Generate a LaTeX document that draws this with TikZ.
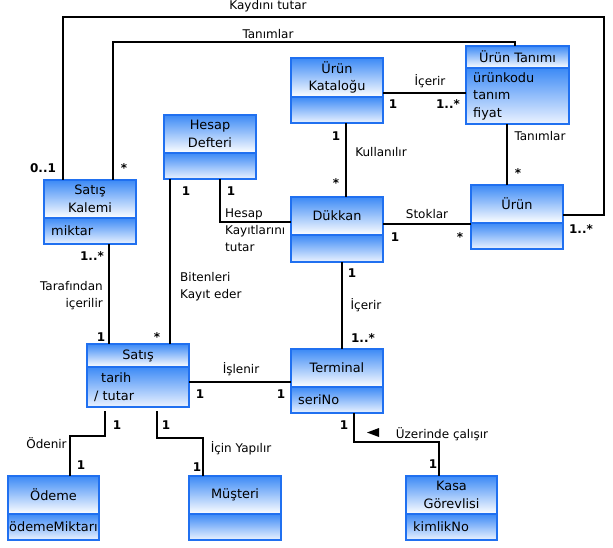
\documentclass[tikz,border=0pt]{standalone}
\usepackage{fontspec}
\setmainfont{DejaVu Sans}
\usepackage{tikz}
\usetikzlibrary{calc}
\definecolor{boxtop}{RGB}{60,138,246}
\definecolor{boxlow}{RGB}{236,243,255}
\definecolor{boxedge}{RGB}{32,112,240}
\def\boxfont{\fontsize{12.9}{17.5}\selectfont}
\def\linkfont{\fontsize{12}{17}\selectfont}
\tikzset{
	classbox/.style={draw=boxedge, line width=1.5pt, rectangle, inner sep=0pt, outer sep=0pt},
	boxline/.style={draw=boxedge, line width=1.5pt},
	classtitle/.style={align=center, inner sep=0pt, font=\boxfont},
	classattr/.style={align=left, anchor=west, inner sep=0pt, xshift=7pt, font=\boxfont},
	assoc/.style={line width=1.2pt},
	mult/.style={font=\linkfont\bfseries, inner sep=0pt},
	lbl/.style={font=\linkfont, inner sep=0pt},
}
% name, top left, bottom right, divider, title, attributes
\def\umlclass(#1)(#2,#3)(#4,#5)(#6)#7#8{
	\shade[top color=boxtop, bottom color=white] (#2,#3) rectangle (#4,#6);
	\shade[top color=boxtop, bottom color=boxlow] (#2,#6) rectangle (#4,#5);
	\node[classbox, minimum width={(#4-#2)*1pt}, minimum height={(#5-#3)*1pt}] (#1) at ({(#2+#4)/2},{(#3+#5)/2}) {};
	\draw[boxline] (#2,#6) -- (#4,#6);
	\node[classtitle] at ({(#2+#4)/2},{(#3+#6)/2}) {#7};
	\node[classattr] at (#2,{(#6+#5)/2}) {#8};
}

\begin{document}
\begin{tikzpicture}[x=1pt, y=-1pt]
			%%%%% START %%%%%
			\useasboundingbox (0,0) rectangle (613,548);
			
			\umlclass(satiskalemi)(44,180)(136,244)(218){Satış\\Kalemi}{miktar}
			\umlclass(hesapdefteri)(164,115)(256,179)(153){Hesap\\Defteri}{}
			\umlclass(urunkatalogu)(291,58)(383,123)(97){Ürün\\Kataloğu}{}
			\umlclass(uruntanimi)(466,46)(569,124)(68){Ürün Tanımı}{ürünkodu\\tanım\\fiyat}
			\umlclass(dukkan)(291,197)(383,262)(235){Dükkan}{}
			\umlclass(urun)(471,185)(563,249)(223){Ürün}{}
			\umlclass(satis)(87,344)(189,407)(367){Satış}{\hspace{7pt}tarih\\/ tutar}
			\umlclass(terminal)(291,349)(383,413)(387){Terminal}{seriNo}
			\umlclass(odeme)(8,476)(99,540)(514){Ödeme}{\hspace{-6pt}ödemeMiktarı}
			\umlclass(musteri)(189,476)(281,540)(514){Müşteri}{}
			\umlclass(kasagorevlisi)(406,476)(497,540)(514){Kasa\\Görevlisi}{kimlikNo}
			
			\draw[assoc] ([xshift=19]satiskalemi.north west) |- (604,17) |- ([yshift=2]urun.east);
			\draw[assoc] ([xshift=69]satiskalemi.north west) |- (515,42) -- ([xshift=49]uruntanimi.north west);
			\draw[assoc] ([yshift=-35]urunkatalogu.north east) coordinate (k1) -- (k1 -| uruntanimi.west);
			\draw[assoc] ([xshift=41]uruntanimi.south west) coordinate (t1) -- (t1 |- urun.north);
			\draw[assoc] ([xshift=55]urunkatalogu.south west) coordinate (k2) -- (k2 |- dukkan.north);
			\draw[assoc] ([yshift=-27]dukkan.north east) coordinate (d1) -- (d1 -| urun.west);
			\draw[assoc] ([xshift=56]hesapdefteri.south west) |- ([yshift=-25]dukkan.north west);
			\draw[assoc] ([xshift=6]hesapdefteri.south west) coordinate (h1) -- (h1 |- satis.north);
			\draw[assoc] ([xshift=65]satiskalemi.south west) coordinate (s1) -- (s1 |- satis.north);
			\draw[assoc] ([xshift=51]dukkan.south west) coordinate (d2) -- (d2 |- terminal.north);
			\draw[assoc] ([yshift=-38]satis.north east) coordinate (s2) -- (s2 -| terminal.west);
			\draw[assoc] ([xshift=18,yshift=-4]satis.south west) |- (70,436) -- ([xshift=62]odeme.north west);
			\draw[assoc] ([xshift=70,yshift=-4]satis.south west) |- (203,438) -- ([xshift=14]musteri.north west);
			\draw[assoc] ([xshift=63]terminal.south west) |- (439,442) -- ([xshift=33]kasagorevlisi.north west);
			
			\fill (367,432.5) -- (379,428) -- (379,437) -- cycle;
			
			\node[lbl] at (268,6) {Kaydını tutar};
			\node[lbl] at (268,34) {Tanımlar};
			\node[lbl] at (430,81) {İçerir};
			\node[lbl] at (540,136) {Tanımlar};
			\node[lbl] at (381,152) {Kullanılır};
			\node[lbl] at (427,214) {Stoklar};
			\node[lbl, align=left, anchor=west] at (225,230) {Hesap\\Kayıtlarını\\tutar};
			\node[lbl, align=left, anchor=west] at (180,286.5) {Bitenleri\\Kayıt eder};
			\node[lbl, align=right, anchor=east] at (103,295.5) {Tarafından\\içerilir};
			\node[lbl] at (366,305) {İçerir};
			\node[lbl] at (241,369) {İşlenir};
			\node[lbl] at (46.5,443) {Ödenir};
			\node[lbl] at (241,448) {İçin Yapılır};
			\node[lbl] at (442,434) {Üzerinde çalışır};
			
			\node[mult] at (43,168.5) {0..1};
			\node[mult] at (124,168) {*};
			\node[mult] at (92,256) {1..*};
			\node[mult] at (186,191) {1};
			\node[mult] at (231,191) {1};
			\node[mult] at (393,104) {1};
			\node[mult] at (448,104) {1..*};
			\node[mult] at (518,173) {*};
			\node[mult] at (336,136) {1};
			\node[mult] at (336,183) {*};
			\node[mult] at (395,237) {1};
			\node[mult] at (460,237) {*};
			\node[mult] at (581,229) {1..*};
			\node[mult] at (352,273) {1};
			\node[mult] at (363,338) {1..*};
			\node[mult] at (101,337) {1};
			\node[mult] at (157,337) {*};
			\node[mult] at (200,394) {1};
			\node[mult] at (281,394) {1};
			\node[mult] at (117,425) {1};
			\node[mult] at (81,465) {1};
			\node[mult] at (166,425) {1};
			\node[mult] at (197,467) {1};
			\node[mult] at (344,425) {1};
			\node[mult] at (433,464) {1};
			
			%%%%% END %%%%%
\end{tikzpicture}
\end{document}
